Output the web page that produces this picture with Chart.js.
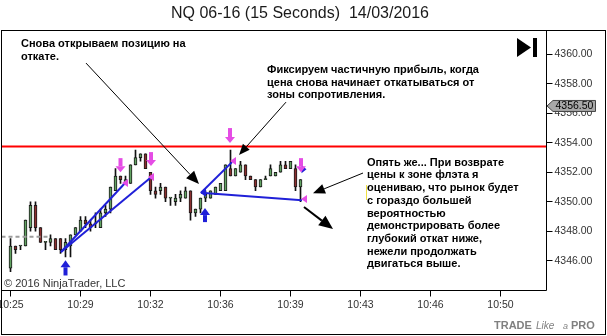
<!DOCTYPE html>
<html><head><meta charset="utf-8">
<script src="https://cdn.jsdelivr.net/npm/chart.js@4.4.1/dist/chart.umd.min.js"></script>
<style>html,body{margin:0;padding:0;background:#fff}canvas{display:block}</style>
</head><body>
<canvas id="c" width="607" height="336"></canvas>
<script>
// ---------- data ----------
const timeLabels = ['10:25','10:29','10:32','10:36','10:39','10:43','10:46','10:50'];
const barsPerLabel = 14;
const priceTicks = [4346,4348,4350,4352,4354,4356,4358,4360];
const opens  = [4345.5,4347.0,4347.0,4347.0,4348.25,4349.75,4348.25,4347.25,4347.25,4347.5,4347.5,4346.75,4347.0,4347.75,4348.0,4348.75,4348.5,4348.5,4348.25,4349.25,4349.5,4350.75,4351.75,4351.25,4351.25,4352.5,4353.0,4353.25,4352.0,4350.75,4350.75,4351.0,4350.25,4350.0,4350.25,4350.25,4350.75,4349.25,4349.5,4350.25,4350.25,4350.5,4350.75,4350.75,4352.25,4351.75,4352.0,4352.5,4351.75,4351.5,4351.0,4351.5,4351.75,4351.75,4352.0,4352.5,4352.25,4352.25,4351.0];
const highs  = [4347.5,4347.0,4347.0,4348.75,4350.0,4350.0,4348.25,4347.25,4347.75,4347.5,4347.5,4347.5,4347.75,4348.25,4349.0,4349.0,4348.75,4349.25,4349.5,4349.75,4351.0,4352.25,4351.75,4351.75,4352.5,4353.5,4353.25,4353.25,4352.0,4351.0,4351.25,4351.0,4350.25,4350.5,4350.75,4351.0,4350.75,4349.5,4350.25,4350.75,4350.75,4351.0,4351.25,4352.5,4353.5,4352.25,4352.75,4352.5,4351.75,4351.5,4351.5,4351.75,4352.5,4352.0,4352.75,4352.75,4352.75,4352.5,4351.5];
const lows   = [4345.25,4346.5,4346.75,4347.0,4348.0,4348.0,4347.25,4346.75,4347.0,4346.75,4346.5,4346.25,4346.25,4347.75,4348.0,4348.25,4348.0,4348.25,4348.25,4349.0,4349.25,4350.75,4351.25,4351.25,4351.25,4352.5,4352.75,4352.25,4350.5,4350.25,4350.5,4350.0,4349.75,4349.75,4350.0,4350.25,4348.75,4349.0,4349.25,4350.0,4350.25,4350.5,4350.75,4350.75,4351.75,4351.75,4352.0,4351.5,4351.5,4350.75,4351.0,4351.5,4351.75,4351.75,4352.0,4352.25,4352.25,4350.75,4350.0];
const closes = [4347.0,4346.75,4347.0,4348.75,4349.75,4348.25,4347.25,4347.25,4347.5,4346.75,4346.75,4347.25,4347.75,4348.25,4348.75,4348.5,4348.25,4348.5,4349.25,4349.5,4351.0,4351.75,4351.5,4351.5,4352.5,4353.0,4353.25,4352.25,4350.75,4350.5,4351.0,4350.25,4350.25,4350.25,4350.5,4350.75,4349.25,4349.5,4350.25,4350.5,4350.75,4351.0,4351.25,4352.5,4351.75,4352.25,4352.5,4351.75,4351.5,4351.0,4351.5,4351.5,4352.25,4352.0,4352.5,4352.25,4352.75,4351.0,4351.5];
const resistance = 4353.75;
const prevClose = 4347.625;
const lastPrice = 4356.5;

// ---------- drawing objects (data coords: bar index, price) ----------
const prevCloseEnd = 7.5;
const trendLines = [
  [10.1,4346.59,23.1,4351.34],
  [10.1,4346.59,28.3,4351.71],
  [38.1,4350.61,44.3,4352.69],
  [38.1,4350.61,58.3,4350.11]
];
const pinkDown = [[22,4352.96,4352.0],[28.1,4353.37,4352.42],[43.9,4355.0,4353.98],[58.1,4352.96,4352.0]];
const pinkLeft = [[22.3,4351.27],[27.5,4351.68],[43.9,4352.76],[58.1,4350.18]];
const blueUp = [[11,4346.03,4345.0],[38.9,4349.57,4348.62]];
const callouts = [
  {from:[15.1,4359.41], to:[37.7,4351.2], len:13, w:11, lw:1},
  {from:[55.1,4356.76], to:[45.7,4353.17], len:11, w:9, lw:1},
  {from:[70.5,4351.95], to:[60.5,4350.57], len:12, w:10, lw:1},
  {from:[58.7,4349.64], to:[64.5,4348.15], len:14, w:12, lw:2}
];
const notes = [
  {x:21, y:44, lines:['Снова открываем позицию на','откате.']},
  {x:267, y:70, lines:['Фиксируем частичную прибыль, когда','цена снова начинает откатываться от','зоны сопротивления.']},
  {x:367, y:162.7, lines:['Опять же... При возврате','цены к зоне флэта я','оцениваю, что рынок будет','с гораздо большей','вероятностью','демонстрировать более','глубокий откат ниже,','нежели продолжать','двигаться выше.']}
];

const FONT = '"Liberation Sans", Arial, sans-serif';
const GREEN = '#62a362', RED = '#8a2f2f', BLUE = '#2020d8', PINK = '#e54ce5';
const idx = opens.map((_, i) => i);

function arrow(c, x1, y1, x2, y2, len, w, lw) {
  const a = Math.atan2(y2 - y1, x2 - x1);
  const bx = x2 - len * Math.cos(a), by = y2 - len * Math.sin(a);
  c.lineWidth = lw;
  c.beginPath(); c.moveTo(x1, y1); c.lineTo(bx, by); c.stroke();
  c.beginPath(); c.moveTo(x2, y2);
  c.lineTo(bx + w / 2 * Math.sin(a), by - w / 2 * Math.cos(a));
  c.lineTo(bx - w / 2 * Math.sin(a), by + w / 2 * Math.cos(a));
  c.closePath(); c.fill();
}

const overlay = {
  id: 'overlay',
  beforeDraw(chart) {
    const c = chart.ctx; c.save(); c.fillStyle = '#fff'; c.fillRect(0, 0, chart.width, chart.height); c.restore();
  },
  afterDatasetsDraw(chart) {
    const { ctx: c, chartArea: a, scales: { x, y } } = chart;
    const X = v => x.getPixelForValue(v), Y = v => y.getPixelForValue(v);
    c.save();
    // previous close dashed
    c.strokeStyle = '#9c9c9c'; c.lineWidth = 2; c.setLineDash([4, 3]);
    c.beginPath(); c.moveTo(a.left, Y(prevClose)); c.lineTo(X(prevCloseEnd), Y(prevClose)); c.stroke();
    c.setLineDash([]);
    // resistance
    c.strokeStyle = '#ff0000'; c.lineWidth = 2;
    c.beginPath(); c.moveTo(a.left, Y(resistance)); c.lineTo(a.right, Y(resistance)); c.stroke();
    // trend lines
    c.strokeStyle = BLUE; c.lineWidth = 2;
    trendLines.forEach(t => { c.beginPath(); c.moveTo(X(t[0]), Y(t[1])); c.lineTo(X(t[2]), Y(t[3])); c.stroke(); });
    // blue small markers
    c.fillStyle = BLUE;
    { const px = X(38.1), py = Y(4350.61); c.beginPath(); c.moveTo(px - 1, py); c.lineTo(px + 5, py - 4); c.lineTo(px + 5, py + 4); c.closePath(); c.fill(); }
    { const px = X(59.2), py = Y(4352.2); c.beginPath(); c.moveTo(px, py); c.lineTo(px - 5, py - 4); c.lineTo(px - 5, py + 4); c.closePath(); c.fill(); }
    // pink down arrows
    c.fillStyle = PINK;
    pinkDown.forEach(p => {
      const cx = X(p[0]), t = Y(p[1]), tip = Y(p[2]);
      c.fillRect(cx - 2, t, 4, tip - t - 6);
      c.beginPath(); c.moveTo(cx - 5, tip - 6); c.lineTo(cx + 5, tip - 6); c.lineTo(cx, tip); c.closePath(); c.fill();
    });
    pinkLeft.forEach(p => {
      const px = X(p[0]), py = Y(p[1]);
      c.beginPath(); c.moveTo(px, py); c.lineTo(px + 6, py - 4); c.lineTo(px + 6, py + 4); c.closePath(); c.fill();
    });
    // blue up arrows
    c.fillStyle = BLUE;
    blueUp.forEach(p => {
      const cx = X(p[0]), tip = Y(p[1]), b = Y(p[2]);
      c.beginPath(); c.moveTo(cx, tip); c.lineTo(cx - 5, tip + 7); c.lineTo(cx + 5, tip + 7); c.closePath(); c.fill();
      c.fillRect(cx - 2, tip + 7, 4, b - tip - 7);
    });
    // callout arrows
    c.strokeStyle = '#000'; c.fillStyle = '#000';
    callouts.forEach(o => arrow(c, X(o.from[0]), Y(o.from[1]), X(o.to[0]), Y(o.to[1]), o.len, o.w, o.lw));
    c.restore();
  },
  afterDraw(chart) {
    const { ctx: c, chartArea: a, scales: { y } } = chart;
    c.save();
    // frames
    c.strokeStyle = '#000'; c.lineWidth = 1;
    c.strokeRect(1.5, 30.5, 604, 304);
    c.beginPath(); c.moveTo(a.right, 30.5); c.lineTo(a.right, a.bottom); c.lineTo(1.5, a.bottom); c.stroke();
    // title
    c.fillStyle = '#1a1a1a'; c.font = '16px ' + FONT; c.textAlign = 'center'; c.textBaseline = 'middle';
    c.fillText('NQ 06-16 (15 Seconds)  14/03/2016', 300, 14);
    // notes
    c.textAlign = 'left'; c.fillStyle = '#000'; c.font = 'bold 11px ' + FONT;
    notes.forEach(n => n.lines.forEach((l, k) => c.fillText(l, n.x, n.y + k * 12.7)));
    // yellow caret
    c.fillStyle = '#f0e040'; c.fillRect(366, 185, 1, 15);
    // copyright
    c.fillStyle = '#333'; c.font = '11px ' + FONT;
    c.fillText('\u00a9 2016 NinjaTrader, LLC', 4, 284);
    // icon
    c.fillStyle = '#000';
    c.beginPath(); c.moveTo(517, 38); c.lineTo(531, 47.5); c.lineTo(517, 57); c.closePath(); c.fill();
    c.fillRect(533, 38, 4, 19);
    // last price marker
    const yc = y.getPixelForValue(lastPrice);
    c.beginPath(); c.moveTo(547, yc); c.lineTo(553, yc - 5.5); c.lineTo(595.5, yc - 5.5); c.lineTo(595.5, yc + 5.5); c.lineTo(553, yc + 5.5); c.closePath();
    c.fillStyle = '#a8a8a8'; c.fill(); c.strokeStyle = '#444'; c.stroke();
    c.fillStyle = '#000'; c.font = '10.5px ' + FONT; c.fillText(lastPrice.toFixed(2), 555.5, yc + 0.5);
    // watermark
    c.fillStyle = '#808080';
    c.font = 'bold 11px ' + FONT; c.fillText('TRADE', 494, 326);
    c.font = 'italic 10px ' + FONT; c.fillText('Like', 536, 326);
    c.font = 'italic 9px ' + FONT; c.fillText('a', 563, 326.5);
    c.font = 'bold 11px ' + FONT; c.fillText('PRO', 571, 326);
    c.restore();
  }
};

new Chart(document.getElementById('c'), {
  type: 'bar',
  data: {
    datasets: [
      { label: 'wick', data: idx.map(i => ({ x: i, y: [lows[i], highs[i]] })), backgroundColor: '#111', barThickness: 1, grouped: false, order: 2 },
      { label: 'body', data: idx.map(i => ({ x: i, y: [opens[i], closes[i]] })),
        backgroundColor: ctx => closes[ctx.dataIndex] >= opens[ctx.dataIndex] ? GREEN : RED,
        borderColor: '#1a1a1a', borderWidth: 1, borderSkipped: false, barThickness: 3, minBarLength: 1, grouped: false, order: 1 }
    ]
  },
  options: {
    responsive: false, animation: false, devicePixelRatio: 1,
    layout: { padding: { left: 1.5, top: 30.5, right: 0, bottom: 0 } },
    plugins: { legend: { display: false }, tooltip: { enabled: false }, title: { display: false } },
    scales: {
      x: {
        type: 'linear', min: -1.8, max: 107.2, offset: false,
        grid: { display: true, offset: false, drawOnChartArea: false, drawTicks: true, tickLength: 6, color: '#000' },
        border: { display: false },
        ticks: { autoSkip: false, maxRotation: 0, minRotation: 0, padding: 2, color: '#333', font: { family: FONT, size: 10.5 },
                 callback: (v, i) => timeLabels[i] },
        afterBuildTicks: s => { s.ticks = timeLabels.map((_, k) => ({ value: k * barsPerLabel })); },
        afterFit: s => { s.height = 45.5; s.paddingLeft = 0; s.paddingRight = 0; }
      },
      y: {
        position: 'right', min: 4343.98, max: 4361.62,
        grid: { display: true, drawOnChartArea: false, drawTicks: true, tickLength: 6, color: '#000' },
        border: { display: false },
        ticks: { padding: 2, color: '#333', font: { family: FONT, size: 10.5 }, callback: v => v.toFixed(2) },
        afterBuildTicks: s => { s.ticks = priceTicks.map(v => ({ value: v })); },
        afterFit: s => { s.width = 60.5; s.paddingTop = 0; s.paddingBottom = 0; }
      }
    }
  },
  plugins: [overlay]
});
</script>
</body></html>
